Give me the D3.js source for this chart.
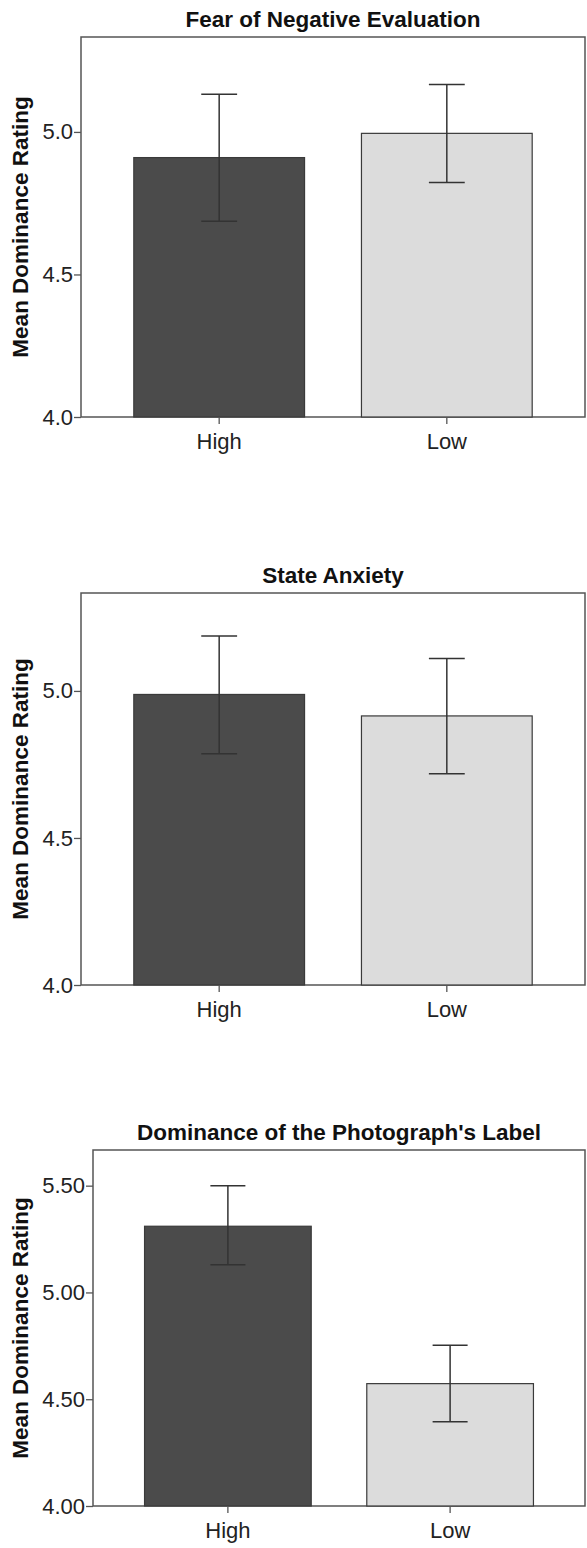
<!DOCTYPE html>
<html>
<head>
<meta charset="utf-8">
<script src="https://cdn.jsdelivr.net/npm/d3@7"></script>
<style>
  body { margin: 0; background: #fff; }
  svg { display: block; font-family: 'Liberation Sans', Arial, sans-serif; }
</style>
</head>
<body>
<svg></svg>
<script>
const CATEGORIES = ['High', 'Low'];
const TITLES = ['Fear of Negative Evaluation', 'State Anxiety', "Dominance of the Photograph's Label"];
const Y_LABEL = 'Mean Dominance Rating';

// means and 95% CI ends, High / Low
const FNE_MEAN = [4.91, 4.995];
const FNE_LOWER = [4.687, 4.823];
const FNE_UPPER = [5.132, 5.166];

const STAI_MEAN = [4.988, 4.915];
const STAI_LOWER = [4.786, 4.718];
const STAI_UPPER = [5.187, 5.11];

const LABEL_MEAN = [5.31, 4.573];
const LABEL_LOWER = [5.13, 4.394];
const LABEL_UPPER = [5.5, 4.753];

const TICKS_A = [4.0, 4.5, 5.0];
const TICKS_B = [4.0, 4.5, 5.0, 5.5];
const Y_MAX = [5.333, 5.333, 5.667];

let SVG = d3.select('svg').attr('width', 587).attr('height', 1548);

const FILLS = ['#4b4b4b', '#dcdcdc'];

// panel boxes: left, top, right, bottom
const BOXES = [
  { left: 81, top: 37, right: 585, bottom: 417 },
  { left: 81, top: 593, right: 585, bottom: 985 },
  { left: 93, top: 1150, right: 585, bottom: 1506 },
];

const PANELS = [
  { mean: FNE_MEAN, lower: FNE_LOWER, upper: FNE_UPPER, ticks: TICKS_A, fmt: '.1f' },
  { mean: STAI_MEAN, lower: STAI_LOWER, upper: STAI_UPPER, ticks: TICKS_A, fmt: '.1f' },
  { mean: LABEL_MEAN, lower: LABEL_LOWER, upper: LABEL_UPPER, ticks: TICKS_B, fmt: '.2f' },
];

PANELS.forEach((p, i) => {
  const box = BOXES[i];
  const g = SVG.append('g');

  let x = d3.scaleBand()
    .domain(CATEGORIES)
    .range([box.left, box.right])
    .paddingInner(0.25)
    .paddingOuter(0.232);

  let y = d3.scaleLinear()
    .domain([4, Y_MAX[i]])
    .range([box.bottom, box.top]);

  // frame
  g.append('rect')
    .attr('x', box.left)
    .attr('y', box.top)
    .attr('width', box.right - box.left)
    .attr('height', box.bottom - box.top)
    .attr('fill', 'none')
    .attr('stroke', '#555')
    .attr('stroke-width', 1.5);

  // bars
  g.selectAll('.bar')
    .data(CATEGORIES)
    .join('rect')
    .attr('x', d => x(d))
    .attr('y', (d, j) => y(p.mean[j]))
    .attr('width', x.bandwidth())
    .attr('height', (d, j) => y(4) - y(p.mean[j]))
    .attr('fill', (d, j) => FILLS[j])
    .attr('stroke', '#3a3a3a')
    .attr('stroke-width', 1.2);

  // error bars
  const cap = x.bandwidth() * 0.105;
  CATEGORIES.forEach((c, j) => {
    const cx = x(c) + x.bandwidth() / 2;
    const eg = g.append('g').attr('stroke', '#333').attr('stroke-width', 1.5);
    eg.append('line')
      .attr('x1', cx).attr('x2', cx)
      .attr('y1', y(p.upper[j])).attr('y2', y(p.lower[j]));
    eg.append('line')
      .attr('x1', cx - cap).attr('x2', cx + cap)
      .attr('y1', y(p.upper[j])).attr('y2', y(p.upper[j]));
    eg.append('line')
      .attr('x1', cx - cap).attr('x2', cx + cap)
      .attr('y1', y(p.lower[j])).attr('y2', y(p.lower[j]));
  });

  // left axis
  let yAxis = d3.axisLeft(y)
    .tickValues(p.ticks)
    .tickFormat(d3.format(p.fmt))
    .tickSizeInner(7)
    .tickSizeOuter(0)
    .tickPadding(1);
  let yAxisG = g.append('g').attr('transform', `translate(${box.left},0)`);
  yAxis(yAxisG);
  yAxisG.select('.domain').remove();
  yAxisG.selectAll('line').attr('stroke', '#555').attr('stroke-width', 1.3);
  yAxisG.selectAll('text')
    .attr('font-size', 22)
    .attr('font-family', "'Liberation Sans', Arial, sans-serif")
    .attr('fill', '#222');

  // bottom axis
  let xAxis = d3.axisBottom(x)
    .tickSizeInner(7)
    .tickSizeOuter(0)
    .tickPadding(9);
  let xAxisG = g.append('g').attr('transform', `translate(0,${box.bottom})`);
  xAxis(xAxisG);
  xAxisG.select('.domain').remove();
  xAxisG.selectAll('line').attr('stroke', '#555').attr('stroke-width', 1.3);
  xAxisG.selectAll('text')
    .attr('font-size', 22)
    .attr('font-family', "'Liberation Sans', Arial, sans-serif")
    .attr('fill', '#222');

  // title
  g.append('text')
    .attr('x', (box.left + box.right) / 2)
    .attr('y', box.top - 10)
    .attr('text-anchor', 'middle')
    .attr('font-size', 22.5)
    .attr('font-weight', 'bold')
    .attr('fill', '#111')
    .text(TITLES[i]);

  // y label
  g.append('text')
    .attr('transform', `translate(28,${(box.top + box.bottom) / 2}) rotate(-90)`)
    .attr('text-anchor', 'middle')
    .attr('font-size', 22.5)
    .attr('font-weight', 'bold')
    .attr('fill', '#111')
    .text(Y_LABEL);
});
</script>
</body>
</html>
